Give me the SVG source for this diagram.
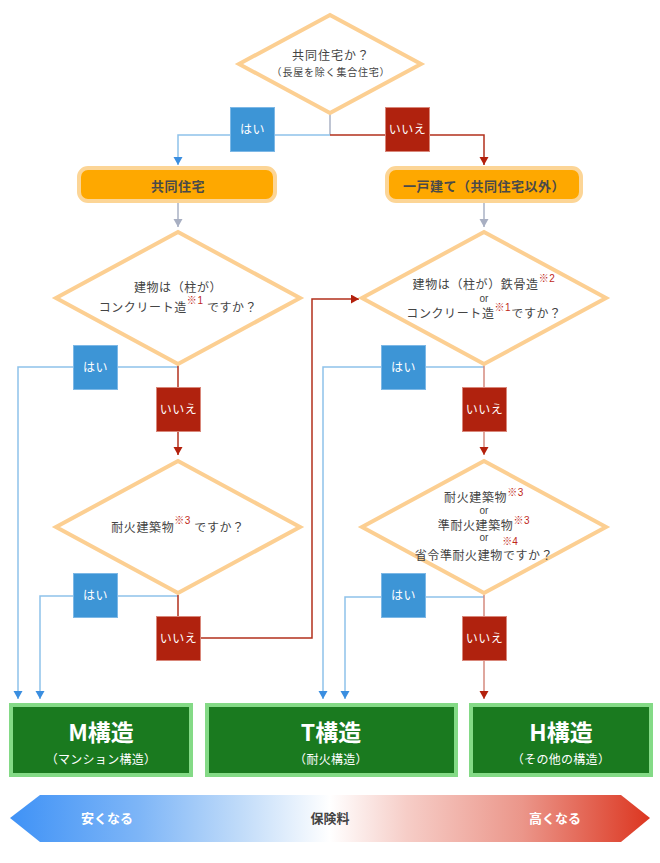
<svg xmlns="http://www.w3.org/2000/svg" width="660" height="863" viewBox="0 0 660 863">
<style>
.dia{fill:#fff;stroke:#fccf92;stroke-width:4;stroke-linejoin:miter}
.q{font-family:"Noto Sans CJK JP","Noto Sans",sans-serif;font-size:12px;fill:#444;text-anchor:middle;letter-spacing:0.6px}
.q10{font-size:10px}
.or{font-family:"Liberation Sans","Noto Sans",sans-serif;font-size:10px;fill:#444;text-anchor:middle}
.sup{font-family:"Liberation Sans","Noto Sans CJK JP",sans-serif;font-size:10px;fill:#c0281a}
.ob{fill:#fea800;stroke:#fcd596;stroke-width:4}
.ot{font-family:"Noto Sans CJK JP",sans-serif;font-size:13px;font-weight:bold;fill:#4a4a4a;text-anchor:middle;letter-spacing:0.5px}
.yes{fill:#3d95d6;stroke:#7db8e6;stroke-width:1}
.no{fill:#b0220e;stroke:#d9877a;stroke-width:1}
.lt{font-family:"Noto Sans CJK JP",sans-serif;font-size:12px;fill:#fff;text-anchor:middle;letter-spacing:0.5px}
.gb{fill:#1a7a1f;stroke:#84da86;stroke-width:4}
.gt{font-family:"Noto Sans CJK JP",sans-serif;font-size:23px;font-weight:bold;fill:#fff;text-anchor:middle}
.gs{font-family:"Noto Sans CJK JP",sans-serif;font-size:12px;fill:#fff;text-anchor:middle;letter-spacing:0.3px}
.lb{fill:none;stroke:#8ec2ea;stroke-width:1.5}
.lr{fill:none;stroke:#b3301c;stroke-width:1.5}
.lp{fill:none;stroke:#d48a7e;stroke-width:1.5}
.lg{fill:none;stroke:#aab2c4;stroke-width:1.5}
.bt{font-family:"Noto Sans CJK JP",sans-serif;font-size:13px;font-weight:bold;text-anchor:middle}
</style>
<defs>
<marker id="ab" markerUnits="userSpaceOnUse" markerWidth="10" markerHeight="10" refX="8" refY="4.5" orient="auto"><path d="M0,0 L8,4.5 L0,9 z" fill="#3a8ee0"/></marker>
<marker id="ar" markerUnits="userSpaceOnUse" markerWidth="10" markerHeight="10" refX="8" refY="4.5" orient="auto"><path d="M0,0 L8,4.5 L0,9 z" fill="#b3200c"/></marker>
<marker id="ag" markerUnits="userSpaceOnUse" markerWidth="10" markerHeight="10" refX="8" refY="4.5" orient="auto"><path d="M0,0 L8,4.5 L0,9 z" fill="#a8afc2"/></marker>
<linearGradient id="grad" gradientUnits="userSpaceOnUse" x1="10" y1="0" x2="650" y2="0">
<stop offset="0" stop-color="#3f92f6"/>
<stop offset="0.2" stop-color="#7db5f7"/>
<stop offset="0.36" stop-color="#c0dbf9"/>
<stop offset="0.5" stop-color="#ffffff"/>
<stop offset="0.62" stop-color="#f6cdc7"/>
<stop offset="0.8" stop-color="#eb968a"/>
<stop offset="1" stop-color="#dc3620"/>
</linearGradient>
</defs>

<g id="connectors">
<path class="lg" d="M330,114 V135"/>
<path class="lb" d="M330,135 H178 V165" marker-end="url(#ab)"/>
<path class="lr" d="M330,135 H484 V165" marker-end="url(#ar)"/>
<path class="lg" d="M178,203 V227" marker-end="url(#ag)"/>
<path class="lg" d="M484,203 V227" marker-end="url(#ag)"/>
<path class="lb" d="M178,367 H18 V699" marker-end="url(#ab)"/>
<path class="lr" d="M178,365 V455" marker-end="url(#ar)"/>
<path class="lb" d="M178,596 H40 V699" marker-end="url(#ab)"/>
<path class="lr" d="M178,595 V638 H312 V299 H359" marker-end="url(#ar)"/>
<path class="lb" d="M484,367 H323 V699" marker-end="url(#ab)"/>
<path class="lp" d="M484,365 V455" marker-end="url(#ar)"/>
<path class="lb" d="M484,597 H345 V699" marker-end="url(#ab)"/>
<path class="lp" d="M484,595 V699" marker-end="url(#ar)"/>
</g>

<g id="edge-labels">
<rect class="yes" x="230.5" y="107.5" width="44" height="44"/><text class="lt" x="252.5" y="134">はい</text>
<rect class="no" x="385.5" y="107.5" width="44" height="44"/><text class="lt" x="407.5" y="134">いいえ</text>
<rect class="yes" x="73.5" y="345.5" width="44" height="44"/><text class="lt" x="95.5" y="372">はい</text>
<rect class="no" x="156.5" y="387.5" width="44" height="44"/><text class="lt" x="178.5" y="414">いいえ</text>
<rect class="yes" x="381.5" y="345.5" width="44" height="44"/><text class="lt" x="403.5" y="372">はい</text>
<rect class="no" x="462.5" y="387.5" width="44" height="44"/><text class="lt" x="484.5" y="414">いいえ</text>
<rect class="yes" x="73.5" y="573.5" width="44" height="44"/><text class="lt" x="95.5" y="600">はい</text>
<rect class="no" x="156.5" y="616.5" width="44" height="44"/><text class="lt" x="178.5" y="643">いいえ</text>
<rect class="yes" x="381.5" y="573.5" width="44" height="44"/><text class="lt" x="403.5" y="600">はい</text>
<rect class="no" x="462.5" y="616.5" width="44" height="44"/><text class="lt" x="484.5" y="643">いいえ</text>
</g>

<g id="q-top">
<polygon class="dia" points="330,15 421,64 330,113 239,64"/>
<text class="q" x="331" y="60" style="letter-spacing:1px">共同住宅か？</text>
<text class="q q10" x="331" y="76" style="letter-spacing:0.8px">（長屋を除く集合住宅）</text>
</g>

<g id="apartment">
<rect class="ob" x="79" y="168" width="196" height="33" rx="9"/>
<text class="ot" x="178" y="191">共同住宅</text>
</g>

<g id="house">
<rect class="ob" x="387" y="168" width="194" height="33" rx="9"/>
<text class="ot" x="484" y="191">一戸建て（共同住宅以外）</text>
</g>

<g id="q-concrete">
<polygon class="dia" points="178,232 300,298 178,364 56,298"/>
<text class="q" x="178" y="292">建物は（柱が）</text>
<text class="q" x="178" y="312">コンクリート造<tspan class="sup" dy="-8">※1</tspan><tspan dy="8"> ですか？</tspan></text>
</g>

<g id="q-steel">
<polygon class="dia" points="484,232 606,298 484,364 362,298"/>
<text class="q" x="484" y="289">建物は（柱が）鉄骨造<tspan class="sup" dy="-7">※2</tspan></text>
<text class="or" x="484" y="302">or</text>
<text class="q" x="484" y="318">コンクリート造<tspan class="sup" dy="-7">※1</tspan><tspan dy="7">ですか？</tspan></text>
</g>

<g id="q-fire">
<polygon class="dia" points="178,461 300,527 178,593 56,527"/>
<text class="q" x="178" y="532">耐火建築物<tspan class="sup" dy="-8">※3</tspan><tspan dy="8"> ですか？</tspan></text>
</g>

<g id="q-fire2">
<polygon class="dia" points="484,461 606,527 484,593 362,527"/>
<text class="q" x="484" y="502">耐火建築物<tspan class="sup" dy="-6">※3</tspan></text>
<text class="or" x="484" y="514">or</text>
<text class="q" x="484" y="530">準耐火建築物<tspan class="sup" dy="-6">※3</tspan></text>
<text class="or" x="484" y="541">or</text>
<text class="sup" x="510" y="545" text-anchor="middle">※4</text>
<text class="q" x="484" y="560">省令準耐火建物ですか？</text>
</g>

<g id="m-structure">
<rect class="gb" x="11" y="705" width="180" height="70"/>
<text class="gt" x="101" y="741">M構造</text>
<text class="gs" x="101" y="764">（マンション構造）</text>
</g>

<g id="t-structure">
<rect class="gb" x="207" y="705" width="249" height="70"/>
<text class="gt" x="331" y="741">T構造</text>
<text class="gs" x="331" y="764">（耐火構造）</text>
</g>

<g id="h-structure">
<rect class="gb" x="471" y="705" width="180" height="70"/>
<text class="gt" x="561" y="741">H構造</text>
<text class="gs" x="561" y="764">（その他の構造）</text>
</g>

<g id="premium-bar">
<polygon points="10,818 40,795 621,795 650,818 621,842 40,842" fill="url(#grad)"/>
<text class="bt" x="107" y="823" fill="#fff">安くなる</text>
<text class="bt" x="330" y="823" fill="#444">保険料</text>
<text class="bt" x="555" y="823" fill="#fff">高くなる</text>
</g>
</svg>
